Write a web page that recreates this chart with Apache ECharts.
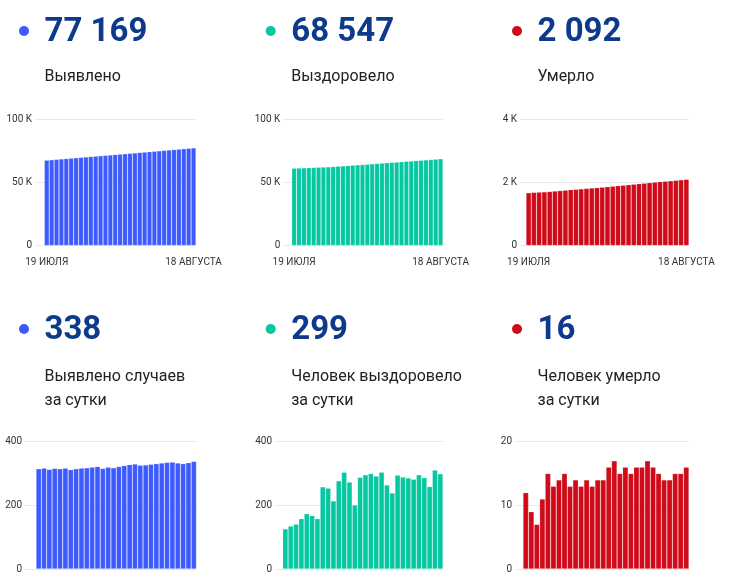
<!DOCTYPE html>
<html><head><meta charset="utf-8">
<script src="https://cdn.jsdelivr.net/npm/echarts@6/dist/echarts.min.js"></script>
<style>html,body{margin:0;padding:0;background:#fff}#c{width:736px;height:577px}</style>
</head><body><div id="c"></div>
<script>
// ---- data ----
const cumDates = ['19 ИЮЛЯ','20 ИЮЛЯ','21 ИЮЛЯ','22 ИЮЛЯ','23 ИЮЛЯ','24 ИЮЛЯ','25 ИЮЛЯ','26 ИЮЛЯ','27 ИЮЛЯ','28 ИЮЛЯ','29 ИЮЛЯ','30 ИЮЛЯ','31 ИЮЛЯ',
  '1 АВГУСТА','2 АВГУСТА','3 АВГУСТА','4 АВГУСТА','5 АВГУСТА','6 АВГУСТА','7 АВГУСТА','8 АВГУСТА','9 АВГУСТА','10 АВГУСТА','11 АВГУСТА','12 АВГУСТА','13 АВГУСТА','14 АВГУСТА','15 АВГУСТА','16 АВГУСТА','17 АВГУСТА','18 АВГУСТА'];
const dailyDates = ['20 ИЮЛЯ','21 ИЮЛЯ','22 ИЮЛЯ','23 ИЮЛЯ','24 ИЮЛЯ','25 ИЮЛЯ','26 ИЮЛЯ','27 ИЮЛЯ','28 ИЮЛЯ','29 ИЮЛЯ','30 ИЮЛЯ','31 ИЮЛЯ',
  '1 АВГУСТА','2 АВГУСТА','3 АВГУСТА','4 АВГУСТА','5 АВГУСТА','6 АВГУСТА','7 АВГУСТА','8 АВГУСТА','9 АВГУСТА','10 АВГУСТА','11 АВГУСТА','12 АВГУСТА','13 АВГУСТА','14 АВГУСТА','15 АВГУСТА','16 АВГУСТА','17 АВГУСТА','18 АВГУСТА'];

const casesTotal = [67460,67775,68092,68405,68721,69036,69353,69665,69980,70297,70615,70935,71257,71573,71893,72211,72533,72858,73186,73516,73842,74169,74498,74829,75162,75497,75833,76166,76497,76831,77169];
const recoveredTotal = [61119,61245,61380,61521,61679,61853,62021,62179,62437,62691,62905,63182,63486,63759,63960,64248,64544,64844,65136,65440,65704,65943,66238,66527,66813,67095,67391,67678,67937,68248,68547];
const deathsTotal = [1668,1680,1689,1696,1707,1722,1735,1749,1764,1777,1791,1804,1818,1831,1845,1859,1875,1892,1907,1923,1938,1954,1970,1987,2003,2018,2032,2046,2061,2076,2092];

const casesDaily = [315,317,313,316,315,317,312,315,317,318,320,322,316,320,318,322,325,328,330,326,327,329,331,333,335,336,333,331,334,338];
const recoveredDaily = [126,135,141,158,174,168,158,258,254,214,277,304,273,201,288,296,300,292,304,264,239,295,289,286,282,296,287,259,311,299];
const deathsDaily = [12,9,7,11,15,13,14,15,13,14,13,14,13,14,14,16,17,15,16,15,16,16,17,16,15,14,14,15,15,16];

const headlineNumbers = ['77 169','68 547','2 092','338','299','16'];
const headlineTitles = ['Выявлено','Выздоровело','Умерло','Выявлено случаев\nза сутки','Человек выздоровело\nза сутки','Человек умерло\nза сутки'];
const cumTicksMax = [100000, 100000, 4000];
const dailyTicksMax = [400, 400, 20];

// ---- layout / style ----
const colors = ['#3d5afe','#05c8a0','#d00a18'];
const FONT = 'Roboto, "Noto Sans", sans-serif';
const panels = [
  {data: casesTotal, cats: cumDates, color: colors[0], max: cumTicksMax[0], gl: 35, bl: 44.3, r: 196, top: 119, h: 126.5, xlab: true, k: true},
  {data: recoveredTotal, cats: cumDates, color: colors[1], max: cumTicksMax[1], gl: 283.3, bl: 291.7, r: 443, top: 119, h: 126.5, xlab: true, k: true},
  {data: deathsTotal, cats: cumDates, color: colors[2], max: cumTicksMax[2], gl: 520, bl: 526, r: 689, top: 119, h: 126.5, xlab: true, k: true},
  {data: casesDaily, cats: dailyDates, color: colors[0], max: dailyTicksMax[0], gl: 25, bl: 36, r: 196.5, top: 441.7, h: 127.3, xlab: false, k: false},
  {data: recoveredDaily, cats: dailyDates, color: colors[1], max: dailyTicksMax[1], gl: 275, bl: 282.7, r: 443, top: 441.7, h: 127.3, xlab: false, k: false},
  {data: deathsDaily, cats: dailyDates, color: colors[2], max: dailyTicksMax[2], gl: 515, bl: 523, r: 689, top: 441.7, h: 127.3, xlab: false, k: false}
];

const grid = [], xAxis = [], yAxis = [], series = [];
panels.forEach((p, i) => {
  grid.push({left: p.gl, width: p.r - p.gl, top: p.top, height: p.h});
  xAxis.push({gridIndex: 2*i, type: 'category', data: p.cats, show: false});
  yAxis.push({gridIndex: 2*i, type: 'value', min: 0, max: p.max, interval: p.max/2,
    axisLine: {show: false}, axisTick: {show: false},
    splitLine: {lineStyle: {color: '#e8e8e8', width: 1}},
    axisLabel: {margin: 3, fontSize: 10, color: '#333', fontFamily: FONT,
      formatter: v => v === 0 ? '0' : (p.k ? (v/1000) + ' K' : String(v))}});
  grid.push({left: p.bl, width: p.r - p.bl, top: p.top, height: p.h});
  const n = p.cats.length;
  xAxis.push({gridIndex: 2*i+1, type: 'category', data: p.cats,
    axisLine: {show: false}, axisTick: {show: false},
    axisLabel: {show: p.xlab, interval: (idx) => idx === 0 || idx === n - 1, margin: 12,
      fontSize: 10, color: '#333', fontFamily: FONT, hideOverlap: false}});
  yAxis.push({gridIndex: 2*i+1, type: 'value', min: 0, max: p.max, show: false, splitLine: {show: false}});
  series.push({type: 'bar', xAxisIndex: 2*i+1, yAxisIndex: 2*i+1, data: p.data,
    barCategoryGap: '0%', silent: true,
    itemStyle: {color: p.color, borderColor: 'rgba(255,255,255,0.3)', borderWidth: 0.6}});
});

const colX = [24, 270.7, 517];
const rowY = [31, 329];
const graphic = [];
headlineNumbers.forEach((num, i) => {
  const c = i % 3, r = Math.floor(i / 3);
  graphic.push({type: 'circle', shape: {cx: colX[c], cy: rowY[r], r: 5}, style: {fill: colors[c]}});
  graphic.push({type: 'text', x: colX[c] + 20.5, y: rowY[r] + 2, style: {text: num, fill: '#0e3a8c',
    font: 'bold 33px ' + FONT, verticalAlign: 'middle', align: 'left'}});
  graphic.push({type: 'text', x: colX[c] + 20.5, y: (r === 0 ? 75 : 375) - 10, style: {text: headlineTitles[i], fill: '#222',
    font: '16px ' + FONT, lineHeight: 24, verticalAlign: 'top', align: 'left'}});
});

const chart = echarts.init(document.getElementById('c'), null, {renderer: 'canvas'});
chart.setOption({animation: false, backgroundColor: '#fff', grid, xAxis, yAxis, series, graphic});
</script>
</body></html>
